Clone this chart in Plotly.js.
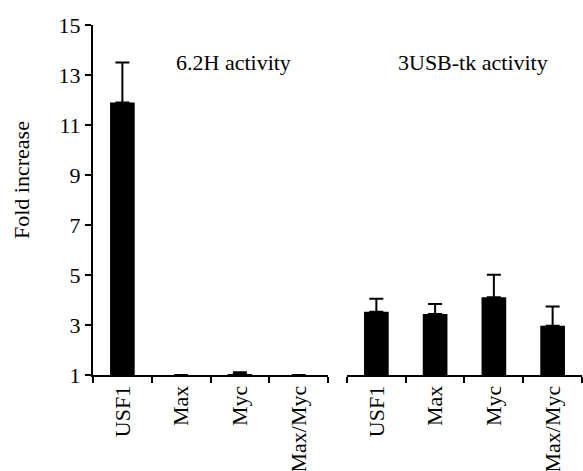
<!DOCTYPE html>
<html><head><meta charset="utf-8">
<script src="https://cdn.plot.ly/plotly-3.0.1.min.js"></script>
<style>html,body{margin:0;padding:0;background:#fff}</style>
</head><body>
<div id="chart" style="width:583px;height:471px"></div>
<script>
const categories = ["USF1", "Max", "Myc", "Max/Myc"];
const h62Values = [11.9, 1.0, 1.04, 1.0];
const h62Errors = [1.6, null, 0.07, null];
const usbValues = [3.53, 3.44, 4.11, 2.97];
const usbErrors = [0.52, 0.4, 0.9, 0.77];
const yTicks = [1, 3, 5, 7, 9, 11, 13, 15];
const panelTitles = ["6.2H activity", "3USB-tk activity"];
const yTitle = "Fold increase";

const mkFont = (s) => ({family: "Liberation Serif", color: "#000", size: s});
const barStyle = {color: "#000"};
const errStyle = (arr) => ({type: "data", array: arr, arrayminus: arr.map(v => v == null ? null : 0), visible: true, color: "#000", thickness: 2, width: 7});

const traces = [
  {type: "bar", x: categories, y: h62Values.map(v => v - 1), base: 1, xaxis: "x", yaxis: "y",
   marker: barStyle, width: 0.42, error_y: errStyle(h62Errors), showlegend: false, hoverinfo: "none"},
  {type: "bar", x: categories, y: usbValues.map(v => v - 1), base: 1, xaxis: "x2", yaxis: "y",
   marker: barStyle, width: 0.42, error_y: errStyle(usbErrors), showlegend: false, hoverinfo: "none"}
];

const xcommon = () => ({
  type: "category", showline: true, linecolor: "#000", linewidth: 2,
  ticks: "outside", tickson: "boundaries", ticklen: 6, tickwidth: 2, tickcolor: "#000",
  tickangle: -90, tickfont: mkFont(22), showgrid: false, zeroline: false, anchor: "y",
  range: [-0.5, 3.5], fixedrange: true, automargin: false
});

const layout = {
  width: 583, height: 471,
  margin: {l: 93, r: 1, t: 25, b: 96},
  paper_bgcolor: "#fff", plot_bgcolor: "#fff",
  font: mkFont(22),
  xaxis: Object.assign(xcommon(), {domain: [0, 0.4806]}),
  xaxis2: Object.assign(xcommon(), {domain: [0.5194, 1]}),
  yaxis: {
    range: [1, 15], tickvals: yTicks, ticktext: yTicks.map(String),
    showline: true, linecolor: "#000", linewidth: 2,
    ticks: "outside", ticklen: 6, tickwidth: 2, tickcolor: "#000",
    showgrid: false, zeroline: false, tickfont: mkFont(22), anchor: "x", automargin: false
  },
  annotations: [
    {text: panelTitles[0], xref: "paper", yref: "paper", x: (233 - 93) / 489, y: 1 - (63 - 25) / 350,
     xanchor: "center", yanchor: "middle", showarrow: false, font: mkFont(22)},
    {text: panelTitles[1], xref: "paper", yref: "paper", x: (473 - 93) / 489, y: 1 - (63 - 25) / 350,
     xanchor: "center", yanchor: "middle", showarrow: false, font: mkFont(22)},
    {text: yTitle, xref: "paper", yref: "paper", x: (21 - 93) / 489, y: 1 - (180 - 25) / 350,
     xanchor: "center", yanchor: "middle", textangle: -90, showarrow: false, font: mkFont(22)}
  ]
};

Plotly.newPlot("chart", traces, layout, {staticPlot: true, displayModeBar: false});
</script>
</body></html>
